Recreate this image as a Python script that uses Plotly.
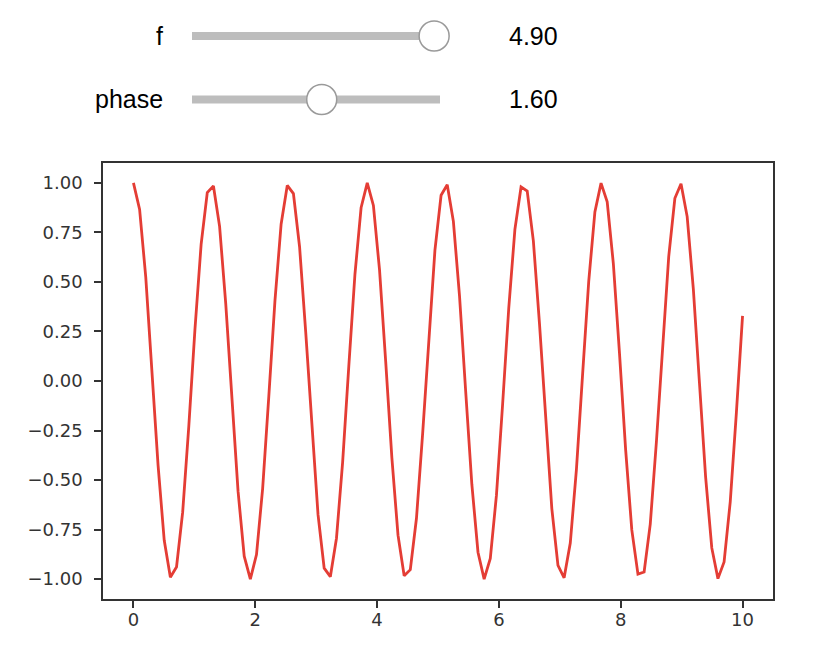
import numpy as np
import plotly.graph_objects as go

# ---- data ----
y_values = [
    0.9996, 0.8658, 0.5241, 0.0567, -0.4243, -0.8035, -0.9898, -0.9386, -0.6621, -0.2267,
    0.2632, 0.6898, 0.9509, 0.9838, 0.7805, 0.3899, -0.0943, -0.5558, -0.8840, -1.0000,
    -0.8759, -0.5417, -0.0774, 0.4054, 0.7910, 0.9867, 0.9456, 0.6775, 0.2468, -0.2431,
    -0.6747, -0.9443, -0.9873, -0.7933, -0.4089, 0.0736, 0.5385, 0.8741, 0.9999, 0.8858,
    0.5590, 0.0981, -0.3864, -0.7781, -0.9831, -0.9521, -0.6926, -0.2668, 0.2229, 0.6592,
    0.9373, 0.9904, 0.8058, 0.4278, -0.0529, -0.5209, -0.8638, -0.9995, -0.8952, -0.5761,
    -0.1187, 0.3672, 0.7649, 0.9791, 0.9582, 0.7074, 0.2868, -0.2027, -0.6435, -0.9299,
    -0.9930, -0.8179, -0.4464, 0.0322, 0.5031, 0.8532, 0.9986, 0.9042, 0.5929, 0.1392,
    -0.3478, -0.7514, -0.9747, -0.9640, -0.7219, -0.3066, 0.1823, 0.6275, 0.9220, 0.9953,
    0.8296, 0.4649, -0.0115, -0.4850, -0.8422, -0.9972, -0.9129, -0.6095, -0.1597, 0.3283,
]
x_start, x_end = 0, 10
x_values = np.linspace(x_start, x_end, len(y_values))

slider_names = ["f", "phase"]
slider_values = [4.90, 1.60]
slider_min = [0.1, 0.0]
slider_max = [5.0, 3.14159]

x_ticks = [0, 2, 4, 6, 8, 10]
y_ticks = [-1.0, -0.75, -0.5, -0.25, 0.0, 0.25, 0.5, 0.75, 1.0]

# ---- layout geometry (page has an 8px body margin) ----
OFF = 8
W, H = 822, 660
PLOT_L, PLOT_R, PLOT_T, PLOT_B = 103, 773, 163, 599   # target window pixels
L = PLOT_L - OFF
T = PLOT_T - OFF
PW = PLOT_R - PLOT_L
PH = PLOT_B - PLOT_T
R = W - L - PW
B = H - T - PH


def px(xp):
    return (xp - PLOT_L) / PW


def py(yp):
    return (PLOT_B - yp) / PH


fig = go.Figure()
fig.add_trace(go.Scatter(
    x=x_values, y=y_values, mode="lines",
    line=dict(color="#e43d35", width=2.8),
    showlegend=False, hoverinfo="x+y",
))

shapes = []
annotations = []
row_y = [36, 99.5]
track_x0, track_x1 = 192, 440
travel_x0, travel_x1 = 200, 439
label_font = dict(family="Liberation Sans, Arial", size=25, color="black")
for name, val, vmin, vmax, ry in zip(slider_names, slider_values, slider_min, slider_max, row_y):
    shapes.append(dict(type="line", xref="paper", yref="paper",
                       x0=px(track_x0), x1=px(track_x1), y0=py(ry), y1=py(ry),
                       line=dict(color="#bdbdbd", width=8), layer="above"))
    frac = (val - vmin) / (vmax - vmin)
    cx = travel_x0 + frac * (travel_x1 - travel_x0)
    shapes.append(dict(type="circle", xref="paper", yref="paper",
                       xsizemode="pixel", ysizemode="pixel",
                       xanchor=px(cx), yanchor=py(ry),
                       x0=-15, x1=15, y0=-15, y1=15,
                       fillcolor="white", line=dict(color="#9a9a9a", width=1.5),
                       layer="above"))
    annotations.append(dict(text=name, xref="paper", yref="paper",
                            x=px(165), y=py(ry), xanchor="right", yanchor="middle",
                            showarrow=False, font=label_font))
    annotations.append(dict(text=f"{val:.2f}", xref="paper", yref="paper",
                            x=px(507), y=py(ry), xanchor="left", yanchor="middle",
                            showarrow=False, font=label_font))

axis_common = dict(
    showline=True, mirror=True, linecolor="#333333", linewidth=1.5,
    ticks="outside", ticklen=7, tickwidth=1.5, tickcolor="#333333",
    showgrid=False, zeroline=False,
    tickfont=dict(family="DejaVu Sans", size=18, color="#333333"),
)

fig.update_layout(
    width=W, height=H,
    margin=dict(l=L, r=R, t=T, b=B, pad=0),
    paper_bgcolor="white", plot_bgcolor="white",
    xaxis=dict(range=[-0.5, 10.5], tickvals=x_ticks, ticklabelstandoff=-3, **axis_common),
    yaxis=dict(range=[-1.1, 1.1], tickvals=y_ticks, tickformat=".2f",
               ticklabelstandoff=8, **axis_common),
    shapes=shapes, annotations=annotations,
)

fig.write_html("out.html")
